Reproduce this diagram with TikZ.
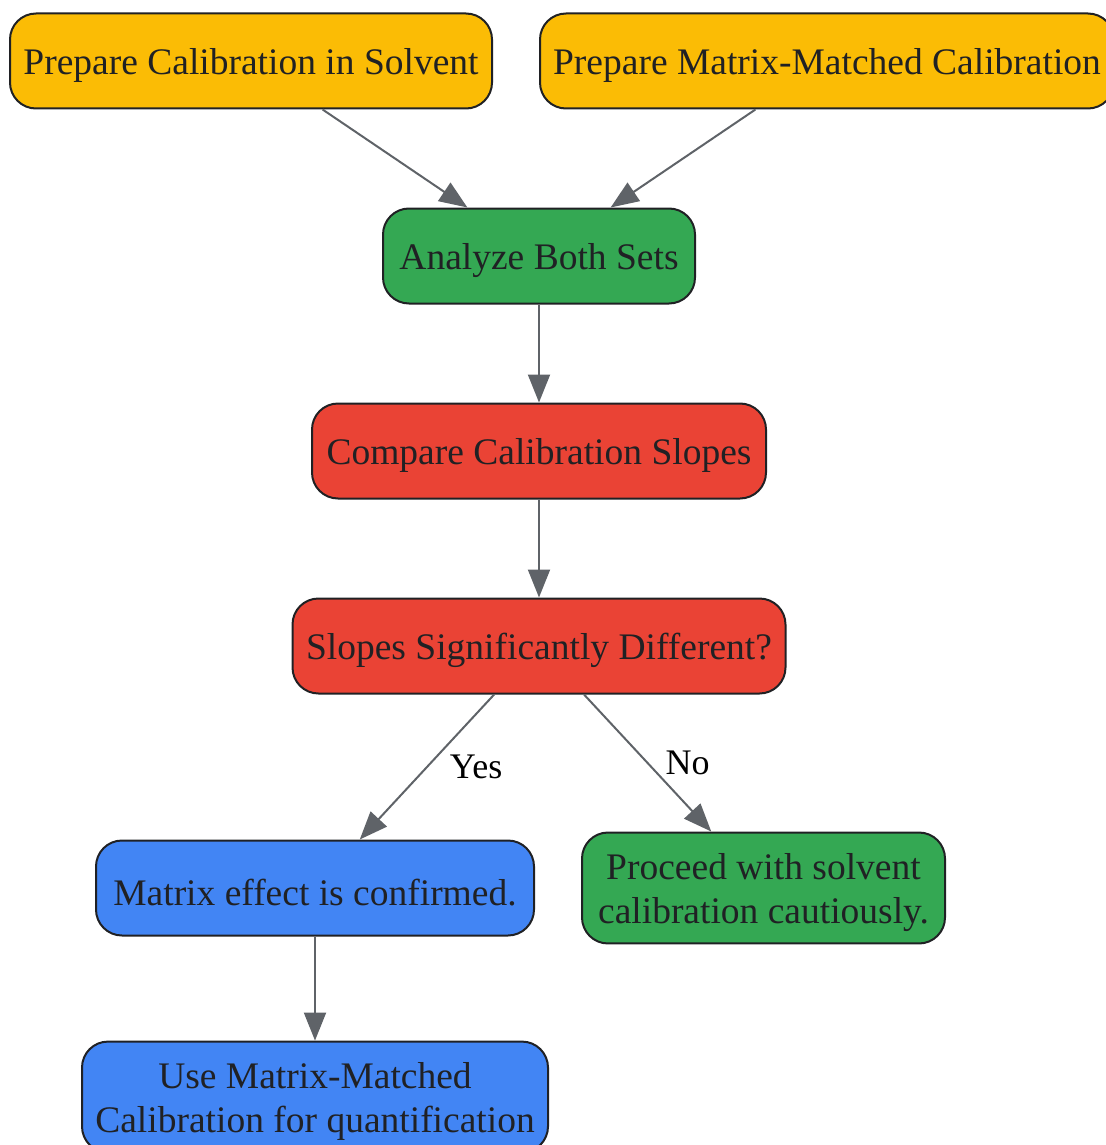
\documentclass[tikz,border=0pt]{standalone}
\usepackage{fontspec}
\setmainfont{Liberation Serif}
\usepackage{tikz}
\usetikzlibrary{arrows.meta,positioning}

\definecolor{gyellow}{HTML}{FBBC05}
\definecolor{ggreen}{HTML}{34A853}
\definecolor{gred}{HTML}{EA4335}
\definecolor{gblue}{HTML}{4285F4}
\definecolor{ink}{HTML}{202124}
\definecolor{wire}{HTML}{5F6368}

\newcommand{\tallstrut}{\rule{0pt}{0.93em}}

\begin{document}
\begin{tikzpicture}[x=1pt,y=1pt,node distance=195pt,on grid,
    box/.style={draw=ink,line width=2pt,rounded corners=26pt,text=ink,
      align=center,minimum height=95pt,inner xsep=12pt,inner ysep=12pt,
      font=\fontsize{37.5}{44}\selectfont},
    yellowbox/.style={box,fill=gyellow},
    greenbox/.style={box,fill=ggreen},
    redbox/.style={box,fill=gred},
    bluebox/.style={box,fill=gblue},
    lbl/.style={text=black,inner sep=2pt,font=\fontsize{36}{40}\selectfont},
    >={Triangle[length=28pt,width=22pt]}]
				\useasboundingbox (0,0) rectangle (1105,-1145);
				\node[greenbox,minimum width=312pt] (q_ana) at (539,-256) {\tallstrut Analyze Both Sets};
				\node[yellowbox,minimum width=482pt] (q_sol) [above left=195pt and 288pt of q_ana] {\tallstrut Prepare Calibration in Solvent};
				\node[yellowbox,minimum width=574pt] (q_mat) [above right=195pt and 288pt of q_ana] {\tallstrut Prepare Matrix-Matched Calibration};
				\node[redbox,minimum width=454pt] (q_cmp) [below=of q_ana] {\tallstrut Compare Calibration Slopes};
				\node[redbox,minimum width=493pt] (q_dif) [below=of q_cmp] {\tallstrut Slopes Significantly Different?};
				\node[bluebox,minimum width=438pt] (q_eff) [below left=242pt and 224pt of q_dif] {\tallstrut Matrix effect is confirmed.};
				\node[greenbox,minimum width=363pt] (q_pro) [below right=242pt and 224.5pt of q_dif] {\tallstrut Proceed with solvent\\calibration cautiously.};
				\node[bluebox,minimum width=466pt] (q_use) [below=209pt of q_eff] {\tallstrut Use Matrix-Matched\\Calibration for quantification};
				\path[->,draw=wire,line width=2pt,fill=wire]
				(q_sol) edge (q_ana)
				(q_mat) edge (q_ana)
				(q_ana) edge (q_cmp)
				(q_cmp) edge (q_dif)
				(q_dif) edge node[lbl,right=20pt] {Yes} (q_eff)
				(q_dif) edge node[lbl,right=15pt] {No} (q_pro)
				(q_eff) edge (q_use);
			\end{tikzpicture}
\end{document}
